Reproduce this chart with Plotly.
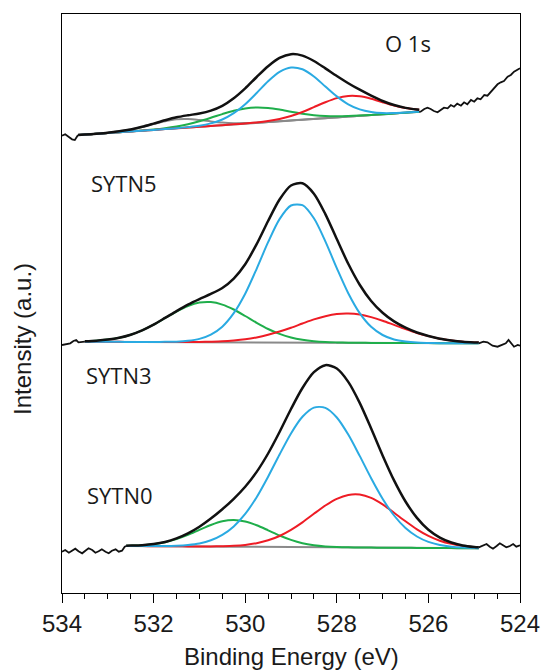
import numpy as np
import plotly.graph_objects as go

# ---------------- data (binding energy in eV, intensity in a.u.) ----------------
# Top spectrum (O 1s, upper trace)
E_top = [533.65, 533.5, 533.25, 533.0, 532.75, 532.5, 532.25, 532.0, 531.75, 531.5, 531.25, 531.0,
         530.75, 530.5, 530.25, 530.0, 529.75, 529.5, 529.25, 529.0, 528.75, 528.5, 528.25, 528.0,
         527.75, 527.5, 527.25, 527.0, 526.75, 526.5, 526.25, 526.2]
bg_top = [458.0, 458.4, 459.2, 460.0, 460.8, 461.6, 462.3, 463.1, 463.9, 464.7, 465.5, 466.2,
          467.0, 467.8, 468.6, 469.4, 470.1, 470.9, 471.7, 472.5, 473.3, 474.1, 474.8, 475.6,
          476.4, 477.2, 478.0, 478.7, 479.5, 480.3, 481.1, 481.2]
gray_top = [0, 0.03, 0.1, 0.3, 0.9, 1.9, 3.7, 5.9, 7.9, 9.0, 8.5, 6.8, 4.6, 2.6, 1.2, 0.5, 0.2,
            0, 0, 0, 0, 0, 0, 0, 0, 0, 0, 0, 0, 0, 0, 0]
green_top = [0, 0, 0, 0.01, 0.02, 0.07, 0.17, 0.42, 0.92, 1.85, 3.35, 5.5, 8.2, 11.1, 13.7, 15.2,
             15.4, 14.1, 11.7, 8.8, 6.0, 3.7, 2.1, 1.1, 0.5, 0.2, 0.08, 0.03, 0, 0, 0, 0]
blue_top = [0, 0, 0, 0, 0, 0, 0, 0, 0.03, 0.12, 0.37, 1.0, 2.6, 5.7, 11.2, 19.4, 29.9, 40.8, 49.4,
            53.0, 50.4, 42.4, 31.7, 21.0, 12.3, 6.4, 3.0, 1.2, 0.43, 0.14, 0.04, 0.03]
red_top = [0, 0, 0, 0, 0, 0, 0, 0, 0, 0, 0, 0, 0, 0, 0.05, 0.15, 0.42, 1.0, 2.3, 4.5, 7.7, 11.8,
           16.0, 19.3, 20.6, 19.5, 16.3, 12.1, 8.0, 4.7, 2.4, 2.1]
raw_top_left_E = [534.0, 533.93, 533.85, 533.78, 533.72, 533.67, 533.65]
raw_top_left = [457.3, 458.7, 456.0, 453.7, 453.0, 456.0, 458.0]
raw_top_right_E = [526.2, 526.17, 526.09, 526.02, 525.95, 525.88, 525.80, 525.73, 525.66, 525.58,
                   525.51, 525.44, 525.37, 525.29, 525.22, 525.15, 525.07, 525.00, 524.93, 524.86,
                   524.78, 524.71, 524.64, 524.56, 524.49, 524.42, 524.35, 524.27, 524.20, 524.13,
                   524.05, 524.0]
raw_top_right = [481.2, 481.3, 484, 485.3, 484, 482, 480.7, 483, 485.3, 484.7, 488, 486.3, 489.3,
                 487.3, 490.7, 488.7, 493, 491.3, 494.7, 493.7, 498, 497.3, 501.3, 505.3, 508.7,
                 510.7, 512, 516.3, 518, 521.3, 523, 524.7]

# Middle spectrum (SYTN5)
E_mid = [533.5, 533.25, 533.0, 532.75, 532.5, 532.25, 532.0, 531.75, 531.5, 531.25, 531.0, 530.75,
         530.5, 530.25, 530.0, 529.75, 529.5, 529.25, 529.0, 528.75, 528.5, 528.25, 528.0, 527.75,
         527.5, 527.25, 527.0, 526.75, 526.5, 526.25, 526.0, 525.75, 525.5, 525.25, 525.0, 524.9]
bg_mid = [251.3, 251.25, 251.2, 251.15, 251.1, 251.05, 251.0, 251.0, 250.9, 250.9, 250.8, 250.8,
          250.7, 250.7, 250.6, 250.6, 250.5, 250.5, 250.4, 250.4, 250.4, 250.3, 250.3, 250.2,
          250.2, 250.1, 250.1, 250.0, 250.0, 249.9, 249.9, 249.8, 249.8, 249.7, 249.7, 249.7]
green_mid = [0.5, 1.1, 2.2, 4.1, 7.2, 11.6, 17.3, 23.9, 30.5, 36.1, 39.6, 40.1, 37.7, 32.8, 26.4,
             19.6, 13.5, 8.6, 5.1, 2.8, 1.4, 0.7, 0.3, 0.1, 0.05, 0, 0, 0, 0, 0, 0, 0, 0, 0, 0, 0]
blue_mid = [0, 0, 0, 0, 0, 0, 0.04, 0.15, 0.47, 1.3, 3.3, 7.6, 15.6, 29.1, 48.7, 73.6, 100.3, 123.4,
            137.1, 137.4, 124.3, 101.4, 74.6, 49.6, 29.7, 16.1, 7.9, 3.5, 1.4, 0.5, 0.16, 0.05,
            0, 0, 0, 0]
red_mid = [0, 0, 0, 0, 0, 0, 0.01, 0.03, 0.06, 0.12, 0.27, 0.54, 1.0, 1.8, 3.1, 5.0, 7.7, 11.0,
           14.9, 19.1, 23.2, 26.5, 28.7, 29.3, 28.3, 25.8, 22.2, 18.1, 13.9, 10.1, 7.0, 4.5, 2.8,
           1.6, 0.9, 0.7]
raw_mid_left_E = [534.0, 533.89, 533.82, 533.75, 533.69, 533.64, 533.56, 533.5]
raw_mid_left = [248.0, 248.7, 249.7, 252.0, 253.0, 250.7, 251.3, 251.3]
raw_mid_right_E = [524.9, 524.80, 524.71, 524.60, 524.49, 524.38, 524.31, 524.25, 524.20, 524.13,
                   524.05, 524.0]
raw_mid_right = [249.7, 251.3, 250.7, 247.3, 246.3, 248.0, 249.7, 253.0, 249.7, 246.3, 248.0, 247.3]

# Bottom spectrum (SYTN3 / SYTN0 labels)
E_bot = [532.6, 532.5, 532.25, 532.0, 531.75, 531.5, 531.25, 531.0, 530.75, 530.5, 530.25, 530.0,
         529.75, 529.5, 529.25, 529.0, 528.75, 528.5, 528.25, 528.0, 527.75, 527.5, 527.25, 527.0,
         526.75, 526.5, 526.25, 526.0, 525.75, 525.5, 525.25, 525.0, 524.9]
bg_bot = [47.0, 47.0, 46.9, 46.8, 46.7, 46.7, 46.6, 46.5, 46.4, 46.4, 46.3, 46.2, 46.1, 46.1, 46.0,
          45.9, 45.8, 45.8, 45.7, 45.6, 45.5, 45.5, 45.4, 45.3, 45.2, 45.2, 45.1, 45.0, 44.9, 44.9,
          44.8, 44.7, 44.7]
green_bot = [0.25, 0.37, 0.92, 2.0, 4.0, 7.2, 11.5, 16.6, 21.6, 25.3, 26.7, 25.3, 21.6, 16.6, 11.5,
             7.2, 4.0, 2.0, 0.92, 0.37, 0.14, 0.05, 0, 0, 0, 0, 0, 0, 0, 0, 0, 0, 0]
blue_bot = [0, 0.01, 0.03, 0.1, 0.26, 0.64, 1.5, 3.1, 6.3, 11.7, 20.3, 32.9, 49.7, 70.2, 92.5, 113.7,
            130.4, 139.6, 139.4, 129.9, 112.9, 91.6, 69.4, 49.0, 32.3, 19.8, 11.4, 6.1, 3.1, 1.4,
            0.6, 0.25, 0.15]
red_bot = [0, 0, 0, 0, 0, 0.01, 0.02, 0.07, 0.17, 0.41, 0.92, 1.9, 3.7, 6.6, 11.0, 17.2, 24.8, 33.4,
           41.8, 48.6, 52.6, 53.0, 49.7, 43.3, 35.1, 26.5, 18.6, 12.1, 7.4, 4.2, 2.2, 1.1, 0.8]
raw_bot_left_E = [534.0, 533.93, 533.85, 533.78, 533.71, 533.64, 533.56, 533.49, 533.42, 533.34,
                  533.27, 533.20, 533.13, 533.05, 532.98, 532.91, 532.83, 532.76, 532.69, 532.63,
                  532.6]
raw_bot_left = [41.3, 43.0, 40.3, 42.3, 44.3, 41.7, 39.7, 42.3, 44.7, 43.0, 40.3, 41.7, 43.7, 41.3,
                39.7, 42.3, 43.7, 41.3, 42.3, 46.3, 47.0]
raw_bot_right_E = [524.9, 524.80, 524.73, 524.66, 524.59, 524.51, 524.44, 524.37, 524.30, 524.22,
                   524.15, 524.08, 524.0]
raw_bot_right = [45.7, 48.0, 49.0, 46.3, 44.3, 47.0, 49.7, 47.7, 45.7, 47.0, 49.0, 46.3, 47.7]

x_ticks = [534, 532, 530, 528, 526, 524]
x_tick_labels = ["534", "532", "530", "528", "526", "524"]
x_minor = [533.5, 533, 532.5, 531.5, 531, 530.5, 529.5, 529, 528.5, 527.5, 527, 526.5, 525.5, 525, 524.5]

panel_labels = ["O 1s", "SYTN5", "SYTN3", "SYTN0"]

# ---------------- figure ----------------
BLACK = "#111111"
BLUE = "#2aaae2"
RED = "#ee1c25"
GREEN = "#1fae4b"
GRAY = "#8a8a8a"

fig = go.Figure()


def add_panel(E, bg, comps, raws):
    E = np.array(E)
    bg = np.array(bg, dtype=float)
    fig.add_trace(go.Scatter(x=E, y=bg, mode="lines", line=dict(color=GRAY, width=2)))
    total = bg.copy()
    for vals, col in comps:
        v = np.array(vals, dtype=float)
        total = total + v
        fig.add_trace(go.Scatter(x=E, y=bg + v, mode="lines",
                                 line=dict(color=col, width=2, shape="spline", smoothing=0.8)))
    fig.add_trace(go.Scatter(x=E, y=total, mode="lines",
                             line=dict(color=BLACK, width=2.5, shape="spline", smoothing=0.8)))
    for rx, ry in raws:
        fig.add_trace(go.Scatter(x=rx, y=ry, mode="lines", line=dict(color=BLACK, width=1.8)))


add_panel(E_top, bg_top,
          [(gray_top, GRAY), (green_top, GREEN), (red_top, RED), (blue_top, BLUE)],
          [(raw_top_left_E, raw_top_left), (raw_top_right_E, raw_top_right)])
add_panel(E_mid, bg_mid,
          [(green_mid, GREEN), (red_mid, RED), (blue_mid, BLUE)],
          [(raw_mid_left_E, raw_mid_left), (raw_mid_right_E, raw_mid_right)])
add_panel(E_bot, bg_bot,
          [(green_bot, GREEN), (red_bot, RED), (blue_bot, BLUE)],
          [(raw_bot_left_E, raw_bot_left), (raw_bot_right_E, raw_bot_right)])

W, H = 542, 670
L, R, T, B = 62, 22, 14, 77
pw = W - L - R
ph = H - T - B


def px(x):
    return (x - L) / pw


def py(y):
    return (H - B - y) / ph


label_font = dict(family="Open Sans, Noto Sans, sans-serif", size=22, color="#1a1a1a")
label_pos = [(408, 43), (124, 183), (119, 375), (120, 495)]
annotations = []
for txt, (ax_, ay_) in zip(panel_labels, label_pos):
    annotations.append(dict(text=txt, x=px(ax_), y=py(ay_), xref="paper", yref="paper",
                            xanchor="center", yanchor="middle", showarrow=False, font=label_font))

axis_font = dict(family="Liberation Sans, Arial, sans-serif", size=24, color="#1a1a1a")
annotations.append(dict(text="Intensity (a.u.)", x=px(22), y=py(339), xref="paper", yref="paper",
                        xanchor="center", yanchor="middle", textangle=-90, showarrow=False,
                        font=axis_font))
annotations.append(dict(text="Binding Energy (eV)", x=px(291), y=py(656), xref="paper", yref="paper",
                        xanchor="center", yanchor="middle", showarrow=False, font=axis_font))

fig.update_layout(
    width=W, height=H, autosize=False,
    margin=dict(l=L, r=R, t=T, b=B, pad=0, autoexpand=False),
    paper_bgcolor="white", plot_bgcolor="white",
    showlegend=False,
    annotations=annotations,
    xaxis=dict(range=[534, 524], autorange=False, tickmode="array", tickvals=x_ticks,
               ticktext=x_tick_labels, ticks="outside", ticklen=9, tickwidth=1.3,
               tickcolor="black", showline=True, linecolor="black", linewidth=1.3, mirror=True,
               showgrid=False, zeroline=False, tickfont=axis_font, automargin=False,
               minor=dict(tickmode="array", tickvals=x_minor, ticks="outside", ticklen=5,
                          tickwidth=1.3, tickcolor="black", showgrid=False)),
    yaxis=dict(range=[0, ph], autorange=False, showline=True, linecolor="black", linewidth=1.3,
               mirror=True, ticks="", showticklabels=False, showgrid=False, zeroline=False,
               automargin=False),
)

fig.write_html("out.html")
